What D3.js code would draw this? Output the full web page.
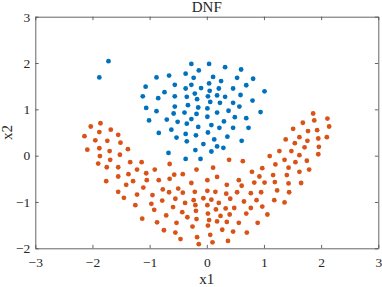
<!DOCTYPE html>
<html><head><meta charset="utf-8">
<script src="https://cdn.jsdelivr.net/npm/d3@7"></script>
<style>body{margin:0;background:#fff}svg{display:block}text{font-family:"Liberation Serif","Times New Roman",serif;fill:#262626}</style>
</head><body><svg id="c" width="382" height="287"></svg>
<script>
const title = "DNF";
const xLabel = "x1", yLabel = "x2";
const xTicks = [-3,-2,-1,0,1,2,3];
const yTicks = [-2,-1,0,1,2,3];
const blueX = [-1.72,-1.88,-0.27,0.04,0.32,0.60,-0.14,-0.37,-0.66,-0.88,-0.23,0.11,0.53,0.81,0.25,-0.56,-0.27,0.04,-1.07,-0.74,-0.37,-0.10,0.05,0.21,0.46,0.69,1.01,-1.12,-0.85,-0.56,-0.35,-0.21,0.02,0.18,0.32,0.59,-0.17,0.23,0.06,0.46,0.80,-0.33,-0.56,-0.15,0.01,0.57,-1.06,-0.88,-0.39,-0.58,0.38,0.18,-0.18,0.94,0.01,0.49,0.69,-1.01,-0.70,-0.51,-0.27,-0.35,0.30,-0.15,0.08,0.22,0.46,0.73,-0.84,-0.62,-0.37,0.02,-0.53,-0.19,0.13,0.36,-0.35,0.61,-0.06,0.18,0.29,-0.20,-0.67,0.08,-0.37,-0.11];
const blueY = [2.04,1.69,1.98,1.98,1.91,1.86,1.84,1.77,1.73,1.69,1.68,1.70,1.68,1.66,1.61,1.53,1.53,1.56,1.49,1.37,1.45,1.46,1.40,1.45,1.45,1.52,1.39,1.28,1.24,1.28,1.27,1.34,1.28,1.30,1.27,1.31,1.22,1.14,1.16,1.14,1.19,1.09,1.06,1.04,1.02,1.06,1.03,0.96,0.93,0.91,0.97,0.93,0.90,0.94,0.84,0.83,0.81,0.76,0.78,0.73,0.79,0.69,0.74,0.62,0.66,0.60,0.60,0.60,0.49,0.56,0.47,0.50,0.39,0.44,0.35,0.41,0.31,0.32,0.25,0.20,0.17,0.12,0.06,0.09,-0.07,-0.07];
const orangeX = [-2.14,-2.03,-2.09,-1.86,-1.95,-1.88,-1.88,-1.68,-1.87,-1.90,-1.74,-1.70,-1.55,-1.51,-1.69,-1.75,-1.52,-1.38,-1.55,-1.34,-1.76,-1.55,-1.14,-1.37,-1.41,-1.22,-1.29,-1.06,-1.55,-1.45,-1.22,-1.05,-1.11,-0.91,-0.95,-1.25,-0.84,-0.77,-0.97,-0.92,-1.13,-0.78,-0.65,-0.65,-0.66,-0.87,-0.71,-0.75,-0.57,-0.42,-0.55,-0.59,-0.50,-0.42,-0.38,-0.43,-0.53,-0.55,-0.46,-0.34,-0.25,-0.27,-0.18,-0.21,-0.23,-0.20,-0.19,-0.18,-0.17,-0.14,0.01,0.01,-0.06,0.01,0.02,0.04,0.02,0.06,0.10,0.11,0.08,0.15,0.16,0.18,0.21,0.18,0.24,0.27,0.34,0.35,0.33,0.35,0.39,0.41,0.40,0.37,0.48,0.46,0.56,0.61,0.53,0.65,0.56,0.63,0.69,0.70,0.79,0.83,0.77,0.77,0.87,0.92,0.95,0.97,0.97,1.01,0.89,1.06,1.10,1.20,1.16,1.19,1.23,1.18,1.27,1.36,1.40,1.38,1.43,1.43,1.44,1.36,1.51,1.54,1.48,1.55,1.62,1.62,1.62,1.65,1.68,1.71,1.75,1.76,1.79,1.77,1.86,1.88,1.93,1.95,1.96,1.95,2.11,2.14,2.10];
const orangeY = [0.42,0.63,0.13,0.70,0.33,0.51,0.16,0.56,-0.01,-0.17,0.32,0.10,0.45,0.28,-0.09,-0.25,0.02,0.14,-0.25,-0.14,-0.55,-0.45,-0.14,-0.40,-0.63,-0.30,-0.55,-0.38,-0.78,-0.91,-0.84,-0.53,-0.69,-0.30,-0.85,-1.07,-0.53,-0.73,-1.04,-1.17,-1.36,-0.97,-0.18,-0.50,-0.79,-1.44,-1.29,-1.61,-0.41,-0.40,-0.93,-1.11,-0.71,-0.80,-1.02,-1.22,-1.45,-1.66,-1.80,-1.33,-1.53,-0.59,-0.30,-0.78,-0.96,-1.07,-1.19,-1.37,-1.76,-1.91,-0.53,-0.76,-0.92,-1.07,-1.25,-1.39,-1.51,-1.71,-1.87,-0.26,-0.95,-0.78,-1.16,-0.46,-1.02,-1.42,-1.30,-1.60,-0.82,-0.63,-1.14,-1.43,-0.09,-0.93,-1.27,-1.84,-1.13,-1.64,-0.53,-0.65,-0.79,-0.99,-1.45,-0.12,-1.25,-1.66,-0.35,-0.58,-0.81,-1.13,-0.96,-0.45,-0.79,-0.27,-1.10,-0.58,-1.45,-1.27,-0.01,-0.19,-0.42,-0.57,-0.75,-0.96,0.10,-0.09,-0.42,0.35,-0.26,-0.60,-0.79,-1.01,0.58,0.27,0.10,-0.14,0.40,0.01,-0.35,-0.59,0.71,0.18,-0.11,0.32,-0.30,0.53,0.91,0.76,0.55,0.37,0.19,0.03,0.80,0.63,0.40];

const m = {l:35.3, r:378.3, t:16.7, b:248.3};
const svg = d3.select("#c");
const x = d3.scaleLinear().domain([-3,3]).range([m.l, m.r]);
const y = d3.scaleLinear().domain([-2,3]).range([m.b, m.t]);
const tl = 3.4;
const axisColor = "#262626";
const tickFont = 13.5;

function styleAxis(g){
  g.selectAll("path").attr("stroke", "#555").attr("stroke-width", 0.9);
  g.selectAll("line").attr("stroke", "#555").attr("stroke-width", 0.9);
  g.selectAll("text").attr("font-size", tickFont).attr("fill", axisColor);
}
svg.append("g").attr("transform",`translate(0,${m.b})`)
  .call(d3.axisBottom(x).tickValues(xTicks).tickSize(-tl).tickSizeOuter(0).tickPadding(9.4).tickFormat(d3.format("d")))
  .call(styleAxis);
svg.append("g").attr("transform",`translate(0,${m.t})`)
  .call(d3.axisTop(x).tickValues(xTicks).tickSize(-tl).tickSizeOuter(0).tickFormat(""))
  .call(styleAxis);
svg.append("g").attr("transform",`translate(${m.l},0)`)
  .call(d3.axisLeft(y).tickValues(yTicks).tickSize(-tl).tickSizeOuter(0).tickPadding(5).tickFormat(d3.format("d")))
  .call(styleAxis);
svg.append("g").attr("transform",`translate(${m.r},0)`)
  .call(d3.axisRight(y).tickValues(yTicks).tickSize(-tl).tickSizeOuter(0).tickFormat(""))
  .call(styleAxis);

const blue = blueX.map((v,i)=>[v, blueY[i]]);
const orange = orangeX.map((v,i)=>[v, orangeY[i]]);
svg.append("g").selectAll("circle").data(blue).join("circle")
  .attr("cx", d=>x(d[0])).attr("cy", d=>y(d[1])).attr("r", 2.4).attr("fill", "#0072BD");
svg.append("g").selectAll("circle").data(orange).join("circle")
  .attr("cx", d=>x(d[0])).attr("cy", d=>y(d[1])).attr("r", 2.4).attr("fill", "#D95319");

svg.append("text").attr("x", (m.l+m.r)/2).attr("y", 11.5).attr("text-anchor","middle").attr("font-size", 15).text(title);
svg.append("text").attr("x", (m.l+m.r)/2).attr("y", 284).attr("text-anchor","middle").attr("font-size", 15).text(xLabel);
svg.append("text").attr("transform", `translate(11.7,${(m.t+m.b)/2}) rotate(-90)`).attr("text-anchor","middle").attr("font-size", 15).text(yLabel);
</script></body></html>
